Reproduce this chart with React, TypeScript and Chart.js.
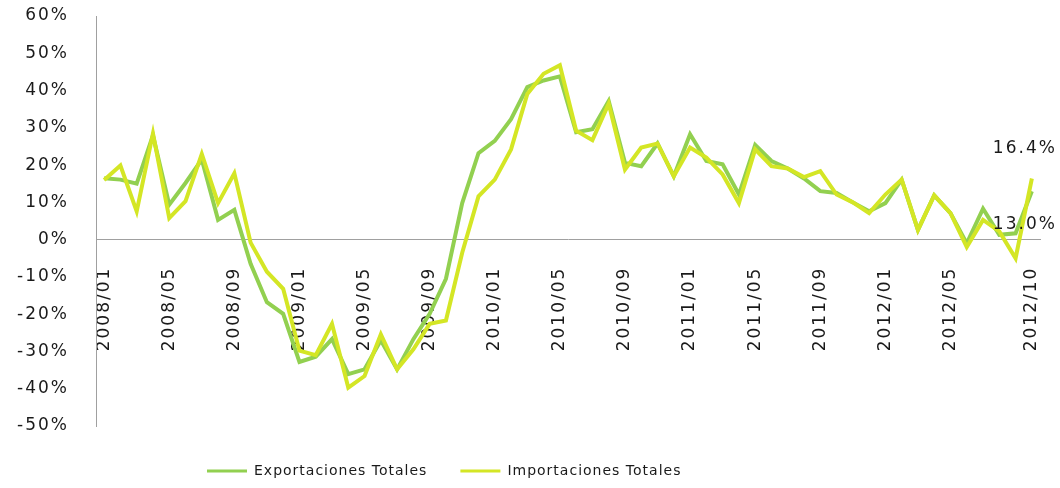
import React, { useEffect, useRef } from 'react';
import { Chart, registerables } from 'chart.js';

Chart.register(...registerables);

const MONTHS = [
  '2008/01', '2008/02', '2008/03', '2008/04', '2008/05', '2008/06', '2008/07', '2008/08', '2008/09', '2008/10', '2008/11', '2008/12',
  '2009/01', '2009/02', '2009/03', '2009/04', '2009/05', '2009/06', '2009/07', '2009/08', '2009/09', '2009/10', '2009/11', '2009/12',
  '2010/01', '2010/02', '2010/03', '2010/04', '2010/05', '2010/06', '2010/07', '2010/08', '2010/09', '2010/10', '2010/11', '2010/12',
  '2011/01', '2011/02', '2011/03', '2011/04', '2011/05', '2011/06', '2011/07', '2011/08', '2011/09', '2011/10', '2011/11', '2011/12',
  '2012/01', '2012/02', '2012/03', '2012/04', '2012/05', '2012/06', '2012/07', '2012/08', '2012/09', '2012/10',
];

const TICK_LABELS = [
  '2008/01', '2008/05', '2008/09', '2009/01', '2009/05', '2009/09', '2010/01', '2010/05', '2010/09',
  '2011/01', '2011/05', '2011/09', '2012/01', '2012/05', '2012/10',
];

const EXPORTS = [
  16.5, 16.1, 15.0, 28.0, 9.4, 15.2, 21.5, 5.3, 8.0, -6.5, -16.8, -19.9,
  -32.8, -31.4, -26.7, -36.1, -34.8, -27.0, -34.8, -26.7, -19.9, -10.5, 9.8, 23.2,
  26.5, 32.3, 40.9, 42.7, 43.8, 28.8, 29.6, 37.2, 20.6, 19.7, 25.8, 17.0,
  28.3, 21.1, 20.2, 12.1, 25.4, 21.1, 19.1, 16.4, 13.0, 12.5, 10.0, 7.6,
  9.8, 16.1, 2.6, 11.9, 7.1, -1.0, 8.3, 1.3, 1.7, 13.0,
];

const IMPORTS = [
  16.0, 19.9, 7.6, 28.5, 5.8, 10.3, 23.0, 9.8, 17.8, -0.8, -8.6, -13.2,
  -29.8, -31.0, -22.6, -39.7, -36.6, -25.4, -34.8, -29.4, -22.6, -21.7, -3.5, 11.6,
  16.1, 24.2, 39.1, 44.5, 46.8, 29.2, 26.7, 36.5, 18.8, 24.7, 25.8, 17.0,
  24.7, 22.0, 17.5, 9.8, 24.2, 19.7, 19.1, 16.8, 18.4, 12.1, 10.0, 7.1,
  12.1, 16.1, 2.6, 11.9, 7.1, -2.0, 5.3, 2.2, -5.0, 16.4,
];

const SERIES_NAMES = ['Exportaciones Totales', 'Importaciones Totales'];
const SERIES_COLORS = ['#92d050', '#d4e625'];

const Y_MIN = -50;
const Y_MAX = 60;
const Y_STEP = 10;

const TEXT_COLOR = '#1a1a1a';
const AXIS_COLOR = '#a0a0a0';

const zeroPadding = (s: any) => {
  s.paddingTop = 0;
  s.paddingBottom = 0;
  s.paddingLeft = 0;
  s.paddingRight = 0;
};

export default function App() {
  const canvasRef = useRef<HTMLCanvasElement>(null);

  useEffect(() => {
    const canvas = canvasRef.current;
    if (!canvas) return;

    const spacingPlugin = {
      id: 'spacingPlugin',
      afterInit(chart: any) {
        const lg = chart.legend;
        if (lg && !lg.__wrapped) {
          const wrap = (fn: any) =>
            function (this: any, ...args: any[]) {
              const c = chart.ctx;
              const prev = c.letterSpacing;
              c.letterSpacing = '1px';
              try {
                return fn.apply(this, args);
              } finally {
                c.letterSpacing = prev;
              }
            };
          lg.fit = wrap(lg.fit);
          lg.draw = wrap(lg.draw);
          lg.__wrapped = true;
        }
      },
      beforeLayout(chart: any) {
        chart.ctx.letterSpacing = '2px';
      },
      afterLayout(chart: any) {
        const lg = chart.legend;
        if (lg) {
          const w = lg.width;
          const h = lg.height;
          lg.left = 174;
          lg.right = lg.left + w;
          lg.top = 431;
          lg.bottom = lg.top + h;
        }
      },
      beforeDraw(chart: any) {
        chart.ctx.letterSpacing = '2px';
      },
    };

    const endLabels = {
      id: 'endLabels',
      afterDatasetsDraw(chart: any) {
        const ctx = chart.ctx;
        const last = MONTHS.length - 1;
        ctx.save();
        ctx.letterSpacing = '2px';
        ctx.font = '17px "DejaVu Sans", sans-serif';
        ctx.fillStyle = TEXT_COLOR;
        ctx.textAlign = 'center';
        ctx.textBaseline = 'middle';
        const ex = chart.getDatasetMeta(0).data[last];
        const im = chart.getDatasetMeta(1).data[last];
        if (ex) ctx.fillText(EXPORTS[last].toFixed(1) + '%', ex.x - 7, ex.y + 33);
        if (im) ctx.fillText(IMPORTS[last].toFixed(1) + '%', im.x - 7, im.y - 30);
        ctx.restore();
      },
    };

    const chart = new Chart(canvas, {
      type: 'line',
      data: {
        labels: MONTHS,
        datasets: [
          {
            label: SERIES_NAMES[0],
            data: EXPORTS,
            borderColor: SERIES_COLORS[0],
            backgroundColor: SERIES_COLORS[0],
            borderWidth: 4,
            pointRadius: 0,
            tension: 0,
            fill: false,
            order: 1,
          },
          {
            label: SERIES_NAMES[1],
            data: IMPORTS,
            borderColor: SERIES_COLORS[1],
            backgroundColor: SERIES_COLORS[1],
            borderWidth: 4,
            pointRadius: 0,
            tension: 0,
            fill: false,
            order: 0,
          },
        ],
      },
      options: {
        animation: false,
        responsive: false,
        devicePixelRatio: 1,
        layout: { padding: { left: 0, right: 20, top: 16, bottom: 5 } },
        font: { family: '"DejaVu Sans", sans-serif' },
        scales: {
          x: {
            type: 'category',
            position: { y: 0 } as any,
            offset: true,
            grid: { display: false, drawTicks: false },
            border: { display: true, color: AXIS_COLOR, width: 1 },
            ticks: {
              autoSkip: false,
              maxRotation: 90,
              minRotation: 90,
              padding: 27,
              color: TEXT_COLOR,
              font: { size: 17, family: '"DejaVu Sans", sans-serif' },
              callback: (_v: any, i: number) => (TICK_LABELS.includes(MONTHS[i]) ? MONTHS[i] : null),
            },
            afterFit: zeroPadding,
          },
          y: {
            min: Y_MIN,
            max: Y_MAX,
            grid: { display: false, drawTicks: false },
            border: { display: true, color: AXIS_COLOR, width: 1 },
            ticks: {
              stepSize: Y_STEP,
              padding: 27,
              color: TEXT_COLOR,
              font: { size: 17, family: '"DejaVu Sans", sans-serif' },
              callback: (v: any) => v + '%',
            },
            afterFit: (s: any) => {
              zeroPadding(s);
              s.width = 96;
            },
          },
        },
        plugins: {
          tooltip: { enabled: false },
          legend: {
            display: true,
            position: 'bottom',
            align: 'start',
            labels: {
              usePointStyle: true,
              pointStyle: 'line',
              pointStyleWidth: 40,
              padding: 33,
              color: TEXT_COLOR,
              font: { size: 14, family: '"DejaVu Sans", sans-serif' },
              sort: (a: any, b: any) => a.datasetIndex - b.datasetIndex,
              generateLabels: (c: any) =>
                (Chart.defaults.plugins.legend.labels.generateLabels as any)(c).map((l: any) => ({
                  ...l,
                  lineWidth: 3,
                  pointStyle: 'line',
                })),
            },
          },
        },
      },
      plugins: [spacingPlugin, endLabels],
    } as any);

    return () => {
      chart.destroy();
    };
  }, []);

  return (
    <div style={{ position: 'fixed', left: 0, top: 0, width: 1060, height: 488, background: '#fff' }}>
      <canvas ref={canvasRef} width={1060} height={488} style={{ display: 'block', width: 1060, height: 488 }} />
    </div>
  );
}
